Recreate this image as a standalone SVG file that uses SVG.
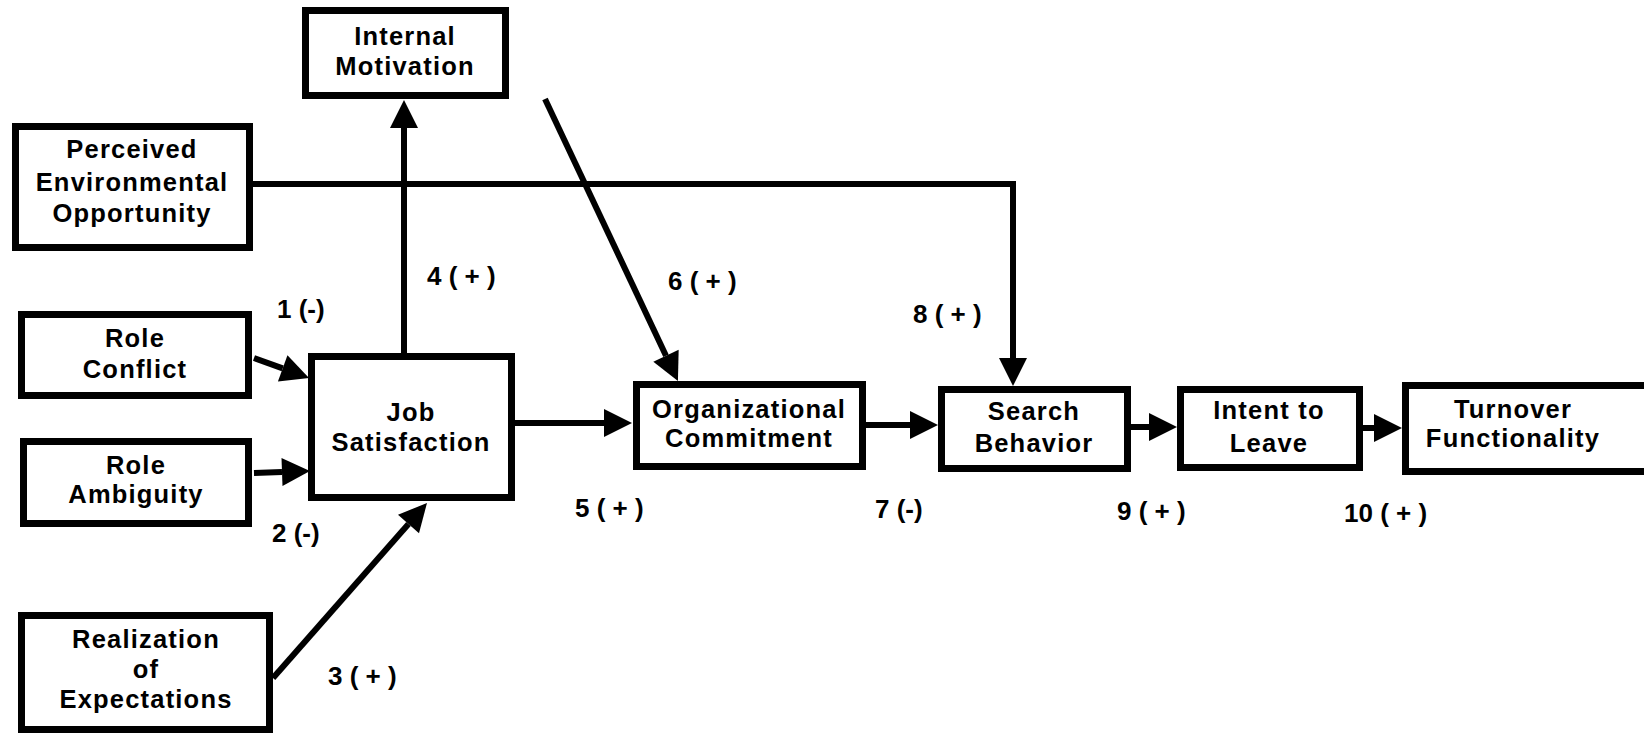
<svg xmlns="http://www.w3.org/2000/svg" width="1644" height="736" viewBox="0 0 1644 736">
<defs>
<style>
.box{fill:#fff;stroke:#000;stroke-width:7}
.t{font-family:"Liberation Sans",Arial,sans-serif;font-weight:700;font-size:25.5px;letter-spacing:1.2px;fill:#000;text-anchor:middle}
.lbl{font-family:"Liberation Sans",Arial,sans-serif;font-weight:700;font-size:26px;fill:#000}
.c{fill:none;stroke:#000;stroke-width:6;marker-end:url(#ah)}
</style>
<marker id="ah" viewBox="0 0 28 28" markerWidth="28" markerHeight="28" refX="0" refY="14" orient="auto" markerUnits="userSpaceOnUse" overflow="visible">
<path d="M0,0 L28,14 L0,28 z" fill="#000"/>
</marker>
</defs>
<rect width="1644" height="736" fill="#fff"/>
<g id="connectors">
<path class="c" d="M254,358 L282.7,368.4"/>
<path class="c" d="M254,473 L282,472"/>
<path class="c" d="M273,678 L408.5,524"/>
<path class="c" d="M404,353 L404,128"/>
<path class="c" d="M515,423 L604,423"/>
<path class="c" d="M545,99 L666,355.7"/>
<path class="c" d="M253,184 L1013,184 L1013,358"/>
<path class="c" d="M866,425 L910,425"/>
<path class="c" d="M1131,427 L1149,427"/>
<path class="c" d="M1363,428 L1374,428"/>
</g>
<g id="internal-motivation">
<rect class="box" x="305.5" y="10.5" width="200" height="85"/>
<text class="t" x="405" y="45">Internal</text>
<text class="t" x="405" y="75">Motivation</text>
</g>
<g id="perceived-environmental-opportunity">
<rect class="box" x="15.5" y="126.5" width="234" height="121"/>
<text class="t" x="132" y="158">Perceived</text>
<text class="t" x="132" y="191">Environmental</text>
<text class="t" x="132" y="222">Opportunity</text>
</g>
<g id="role-conflict">
<rect class="box" x="21.5" y="314.5" width="227" height="81"/>
<text class="t" x="135" y="347">Role</text>
<text class="t" x="135" y="378">Conflict</text>
</g>
<g id="role-ambiguity">
<rect class="box" x="23.5" y="441.5" width="225" height="82"/>
<text class="t" x="136" y="474">Role</text>
<text class="t" x="136" y="503">Ambiguity</text>
</g>
<g id="realization-of-expectations">
<rect class="box" x="21.5" y="615.5" width="248" height="114"/>
<text class="t" x="146" y="648">Realization</text>
<text class="t" x="146" y="678">of</text>
<text class="t" x="146" y="708">Expectations</text>
</g>
<g id="job-satisfaction">
<rect class="box" x="311.5" y="356.5" width="200" height="141"/>
<text class="t" x="411" y="421">Job</text>
<text class="t" x="411" y="451">Satisfaction</text>
</g>
<g id="organizational-commitment">
<rect class="box" x="636.5" y="384.5" width="226" height="82"/>
<text class="t" x="749" y="418">Organizational</text>
<text class="t" x="749" y="447">Commitment</text>
</g>
<g id="search-behavior">
<rect class="box" x="941.5" y="389.5" width="186" height="79"/>
<text class="t" x="1034" y="420">Search</text>
<text class="t" x="1034" y="452">Behavior</text>
</g>
<g id="intent-to-leave">
<rect class="box" x="1180.5" y="389.5" width="179" height="78"/>
<text class="t" x="1269" y="419">Intent to</text>
<text class="t" x="1269" y="452">Leave</text>
</g>
<g id="turnover-functionality">
<rect class="box" x="1405.5" y="385.5" width="260" height="86"/>
<text class="t" x="1513" y="418">Turnover</text>
<text class="t" x="1513" y="447">Functionality</text>
</g>
<g id="labels">
<text class="lbl" x="277" y="318">1 (-)</text>
<text class="lbl" x="272" y="542">2 (-)</text>
<text class="lbl" x="328" y="685">3 ( + )</text>
<text class="lbl" x="427" y="285">4 ( + )</text>
<text class="lbl" x="575" y="517">5 ( + )</text>
<text class="lbl" x="668" y="290">6 ( + )</text>
<text class="lbl" x="875" y="518">7 (-)</text>
<text class="lbl" x="913" y="323">8 ( + )</text>
<text class="lbl" x="1117" y="520">9 ( + )</text>
<text class="lbl" x="1344" y="522">10 ( + )</text>
</g>
</svg>
